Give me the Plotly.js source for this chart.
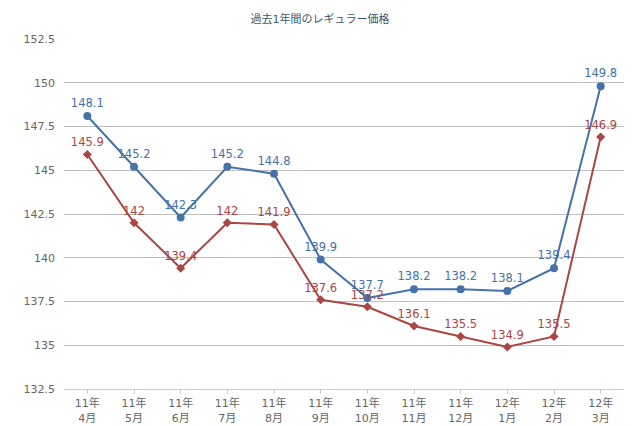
<!DOCTYPE html>
<html><head><meta charset="utf-8">
<script src="https://cdn.plot.ly/plotly-3.0.1.min.js"></script>
<style>body{margin:0;background:#fff}#chart{width:640px;height:426px}</style>
</head><body><div id="chart"></div>
<script>
const categories = ["11年<br>4月","11年<br>5月","11年<br>6月","11年<br>7月","11年<br>8月","11年<br>9月","11年<br>10月","11年<br>11月","11年<br>12月","12年<br>1月","12年<br>2月","12年<br>3月"];
const seriesBlue = [148.1,145.2,142.3,145.2,144.8,139.9,137.7,138.2,138.2,138.1,139.4,149.8];
const seriesRed = [145.9,142,139.4,142,141.9,137.6,137.2,136.1,135.5,134.9,135.5,146.9];
const yTicks = [132.5,135,137.5,140,142.5,145,147.5,150,152.5];
const yTickText = ["132.5","135","137.5","140","142.5","145","147.5","150","152.5"];

const fontFam = '"Lucida Grande","DejaVu Sans","Noto Sans CJK JP",sans-serif';
const idx = categories.map((c,i)=>i);

const traces = [
  {x: idx, y: seriesBlue, mode:'lines+markers+text', text: seriesBlue.map(String), textposition:'top center',
   textfont:{color:'#4572A7', size:11.5, family:fontFam},
   line:{color:'#4572A7', width:2}, marker:{color:'#4572A7', size:8, symbol:'circle'}, cliponaxis:false, showlegend:false, hoverinfo:'none'},
  {x: idx, y: seriesRed, mode:'lines+markers+text', text: seriesRed.map(String), textposition:'top center',
   textfont:{color:'#AA4643', size:11.5, family:fontFam},
   line:{color:'#AA4643', width:2}, marker:{color:'#AA4643', size:7, symbol:'diamond'}, cliponaxis:false, showlegend:false, hoverinfo:'none'}
];

const layout = {
  width:640, height:426,
  margin:{l:64, r:16, t:39, b:37},
  paper_bgcolor:'#fff', plot_bgcolor:'#fff',
  title:{text:'過去1年間のレギュラー価格', x:0.5, xanchor:'center', y:0.955, yanchor:'middle',
    font:{size:11, color:'#3E576F', family:fontFam}},
  xaxis:{range:[-0.5,11.5], tickmode:'array', tickvals:idx, ticktext:categories, showgrid:false, zeroline:false,
    showline:true, linecolor:'#C0D0E0', linewidth:1, ticks:'outside', tickson:'boundaries', ticklen:4, tickcolor:'#C0D0E0',
    tickfont:{size:11, color:'#666', family:fontFam}, fixedrange:true},
  yaxis:{range:[132.5,152.5], tickmode:'array', tickvals:yTicks, ticktext:yTickText, showgrid:true, gridcolor:'#C0C0C0', gridwidth:1,
    zeroline:false, showline:false, ticks:'', ticklabelstandoff:8,
    tickfont:{size:11, color:'#666', family:fontFam}, fixedrange:true},
  font:{family:fontFam}
};
Plotly.newPlot('chart', traces, layout, {displayModeBar:false, staticPlot:true});
</script></body></html>
